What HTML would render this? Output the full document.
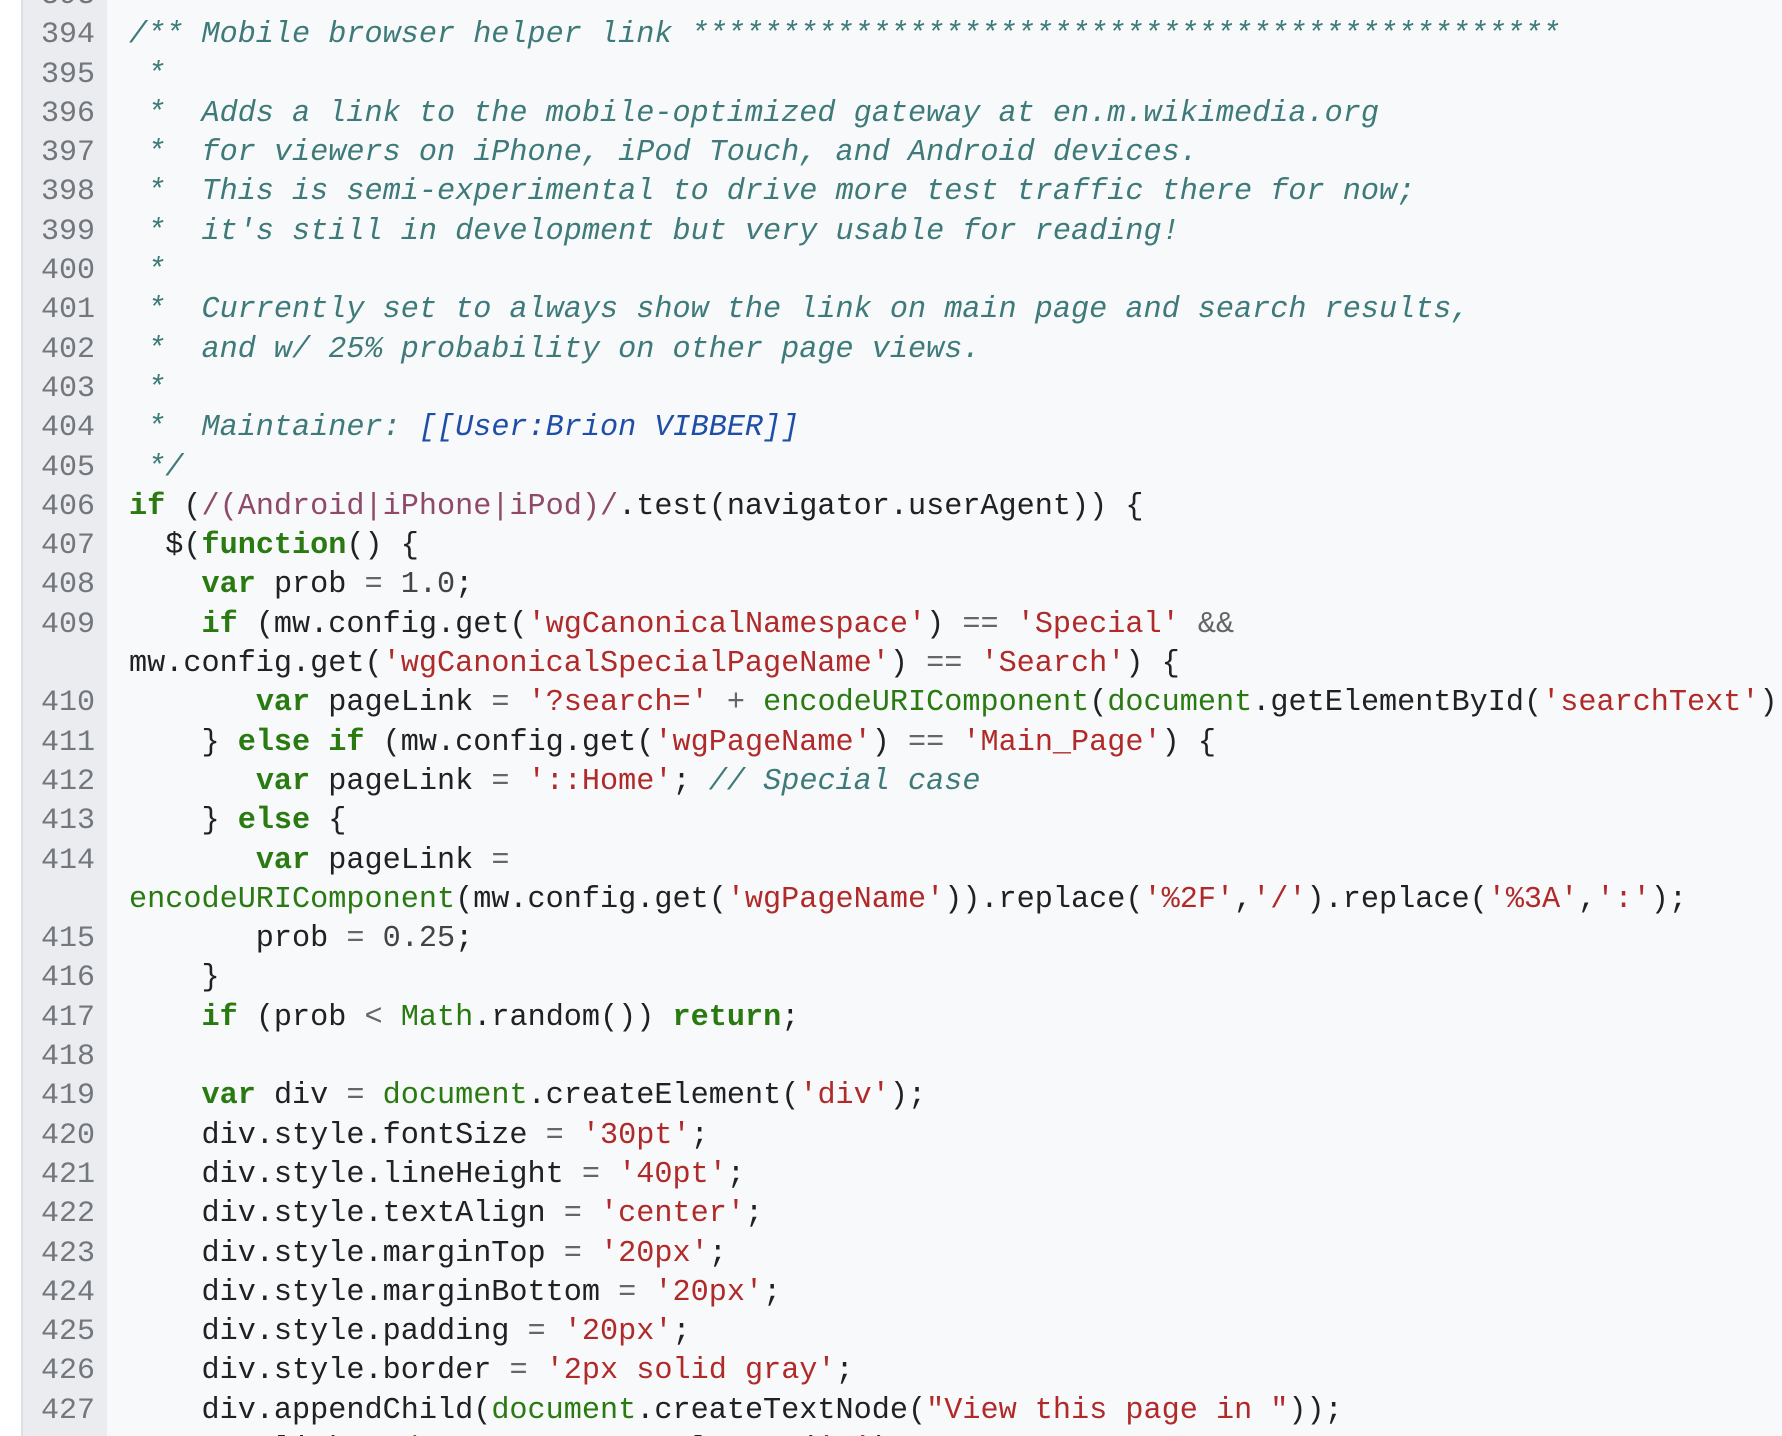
<!DOCTYPE html>
<html><head><meta charset="utf-8"><style>
html,body{margin:0;padding:0;width:1782px;height:1436px;overflow:hidden;background:#fff;}
.w{position:relative;width:1782px;height:1436px;overflow:hidden;}
.g{position:absolute;left:21px;top:0;width:86px;height:1436px;background:#eaecf0;border-left:2px solid #dcdfe4;box-sizing:border-box;}
.c{position:absolute;left:107px;top:0;right:0;height:1436px;background:#f8f9fa;}
.n{position:absolute;left:20px;width:75px;top:-23px;text-align:right;font:30px/39.3px "Liberation Mono",monospace;color:#72777d;white-space:pre;}
.t{position:absolute;left:129px;right:0;top:-23px;overflow:hidden;font:30.2px/39.3px "Liberation Mono",monospace;color:#202122;white-space:pre;}
.cm{color:#3e7a79;font-style:italic}
.ln{color:#1f4ea8;font-style:italic}
.k{color:#2a7a12;font-weight:bold}
.s{color:#b02a2a}
.r{color:#8e4a68}
.b{color:#2a7a12}
.o{color:#666}
.nu{color:#444}
</style></head><body><div class="w">
<div class="g"></div><div class="c"></div>
<div class="n">393
394
395
396
397
398
399
400
401
402
403
404
405
406
407
408
409

410
411
412
413
414

415
416
417
418
419
420
421
422
423
424
425
426
427
428</div>
<div class="t"><span class="cm">&nbsp;</span>
<span class="cm">/** Mobile browser helper link ************************************************</span>
<span class="cm"> *</span>
<span class="cm"> *  Adds a link to the mobile-optimized gateway at en.m.wikimedia.org</span>
<span class="cm"> *  for viewers on iPhone, iPod Touch, and Android devices.</span>
<span class="cm"> *  This is semi-experimental to drive more test traffic there for now;</span>
<span class="cm"> *  it's still in development but very usable for reading!</span>
<span class="cm"> *</span>
<span class="cm"> *  Currently set to always show the link on main page and search results,</span>
<span class="cm"> *  and w/ 25% probability on other page views.</span>
<span class="cm"> *</span>
<span class="cm"> *  Maintainer: </span><span class="ln">[[User:Brion VIBBER]]</span>
<span class="cm"> */</span>
<span class="k">if</span> (<span class="r">/(Android|iPhone|iPod)/</span>.test(navigator.userAgent)) {
  $(<span class="k">function</span>() {
    <span class="k">var</span> prob <span class="o">=</span> <span class="nu">1.0</span>;
    <span class="k">if</span> (mw.config.get(<span class="s">'wgCanonicalNamespace'</span>) <span class="o">==</span> <span class="s">'Special'</span> <span class="o">&amp;&amp;</span>
mw.config.get(<span class="s">'wgCanonicalSpecialPageName'</span>) <span class="o">==</span> <span class="s">'Search'</span>) {
       <span class="k">var</span> pageLink <span class="o">=</span> <span class="s">'?search='</span> <span class="o">+</span> <span class="b">encodeURIComponent</span>(<span class="b">document</span>.getElementById(<span class="s">'searchText'</span>).value);
    } <span class="k">else if</span> (mw.config.get(<span class="s">'wgPageName'</span>) <span class="o">==</span> <span class="s">'Main_Page'</span>) {
       <span class="k">var</span> pageLink <span class="o">=</span> <span class="s">'::Home'</span>; <span class="cm">// Special case</span>
    } <span class="k">else</span> {
       <span class="k">var</span> pageLink <span class="o">=</span>
<span class="b">encodeURIComponent</span>(mw.config.get(<span class="s">'wgPageName'</span>)).replace(<span class="s">'%2F'</span>,<span class="s">'/'</span>).replace(<span class="s">'%3A'</span>,<span class="s">':'</span>);
       prob <span class="o">=</span> <span class="nu">0.25</span>;
    }
    <span class="k">if</span> (prob <span class="o">&lt;</span> <span class="b">Math</span>.random()) <span class="k">return</span>;

    <span class="k">var</span> div <span class="o">=</span> <span class="b">document</span>.createElement(<span class="s">'div'</span>);
    div.style.fontSize <span class="o">=</span> <span class="s">'30pt'</span>;
    div.style.lineHeight <span class="o">=</span> <span class="s">'40pt'</span>;
    div.style.textAlign <span class="o">=</span> <span class="s">'center'</span>;
    div.style.marginTop <span class="o">=</span> <span class="s">'20px'</span>;
    div.style.marginBottom <span class="o">=</span> <span class="s">'20px'</span>;
    div.style.padding <span class="o">=</span> <span class="s">'20px'</span>;
    div.style.border <span class="o">=</span> <span class="s">'2px solid gray'</span>;
    div.appendChild(<span class="b">document</span>.createTextNode(<span class="s">"View this page in "</span>));
    <span class="k">var</span> link <span class="o">=</span> <span class="b">document</span>.createElement(<span class="s">'a'</span>);</div>
</div></body></html>
